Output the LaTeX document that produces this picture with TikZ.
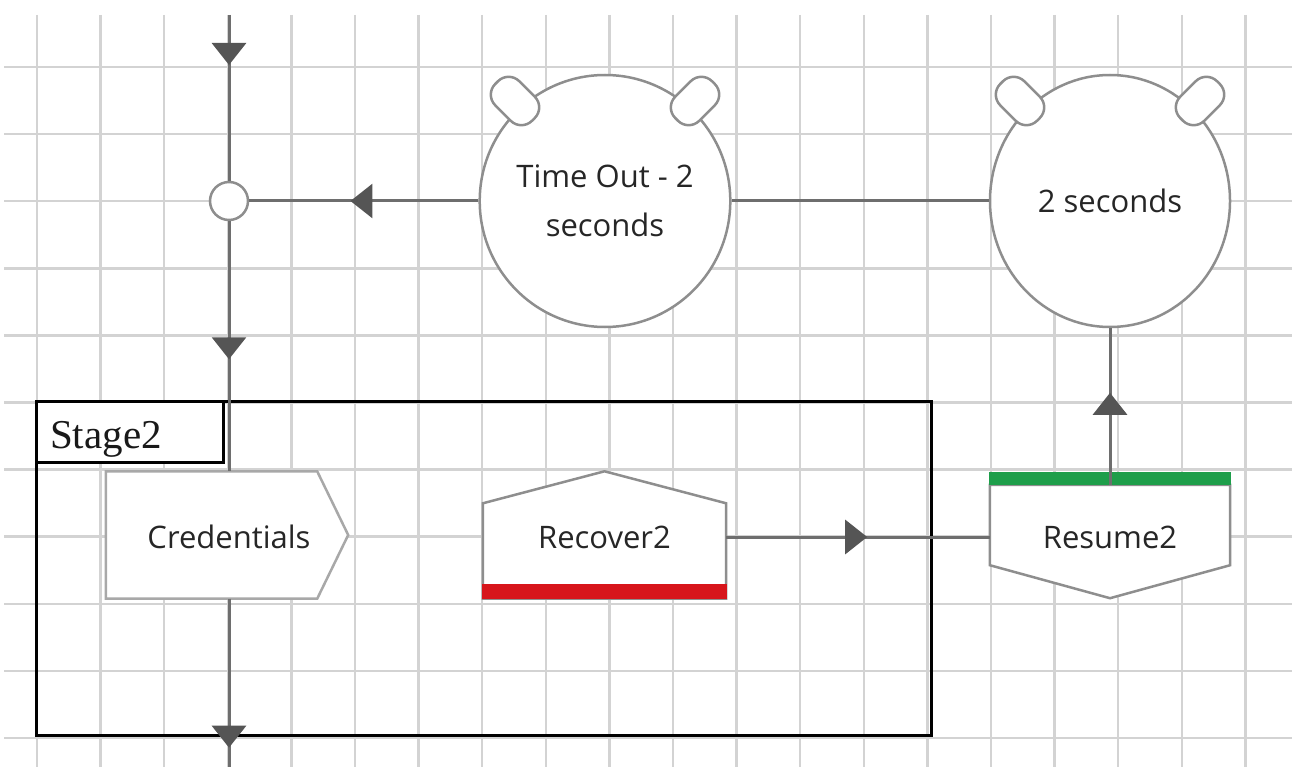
\documentclass[tikz,border=0pt]{standalone}
\usepackage{fontspec}
\setmainfont{Open Sans}
\newfontfamily\serifstage{Liberation Serif}
\usetikzlibrary{arrows.meta,shapes.geometric,decorations.markings,calc}
\definecolor{gridc}{HTML}{D3D3D3}
\definecolor{linec}{HTML}{6E6E6E}
\definecolor{arrowc}{HTML}{555555}
\definecolor{shapec}{HTML}{8E8E8E}
\definecolor{lightshape}{HTML}{A8A8A8}
\definecolor{txtc}{HTML}{262626}
\definecolor{redbar}{HTML}{D7151B}
\definecolor{greenbar}{HTML}{1E9E4A}
\begin{document}
\begin{tikzpicture}[x=1pt,y=-1pt,
  gridline/.style={draw=gridc,line width=2.5pt},
  conn/.style={draw=linec,line width=3pt},
  tipat/.style={postaction={decorate},decoration={markings,
      mark=at position #1 with {\arrow[arrowc]{Triangle[length=22pt,width=34pt]}}}},
  timer/.style={ellipse,draw=shapec,line width=2.5pt,fill=white,
      minimum width=240pt,minimum height=252pt,inner sep=0pt,align=center,
      text=txtc,font=\fontsize{31}{49}\selectfont},
  ear/.style={rectangle,draw=shapec,line width=2.5pt,fill=white,rounded corners=15pt,
      minimum width=52pt,minimum height=34pt,inner sep=0pt},
  stepbox/.style={rectangle,draw=none,inner sep=0pt,text=txtc,
      font=\fontsize{31}{40}\selectfont},
  outline/.style={draw=shapec,line width=2.5pt,fill=white,line join=miter},
  stageframe/.style={draw=black,line width=2.5pt,inner sep=0pt}
]
\fill[white] (0,0) rectangle (1292,767);
\useasboundingbox (0,0) rectangle (1292,767);

% grid
\foreach \i in {0,...,19} \draw[gridline] ({37+63.6*\i},15) -- ({37+63.6*\i},767);
\foreach \j in {0,...,10} \draw[gridline] (4,{67+67.1*\j}) -- (1292,{67+67.1*\j});

% stage
\node[stageframe,anchor=north west,minimum width=895pt,minimum height=334pt] (stage) at (35,400) {};
\node[stageframe,fill=white,anchor=north west,minimum width=187pt,minimum height=61pt] (stagelbl) at (35,400) {};
\node[anchor=base west,inner sep=0pt,text=black!90,font=\serifstage\fontsize{41}{48}\selectfont] (stagetxt) at (50,448) {Stage2};

% timers
\node[timer] (to) at (605,201) {Time Out - 2\\seconds};
\node[ear,rotate=-45] (toearl) at ($(to.center)+(-90,-100)$) {};
\node[ear,rotate=45] (toearr) at ($(to.center)+(90,-100)$) {};
\node[timer] (ts) at (1110,201) {2 seconds};
\node[ear,rotate=-45] (tsearl) at ($(ts.center)+(-90,-100)$) {};
\node[ear,rotate=45] (tsearr) at ($(ts.center)+(90,-100)$) {};

% junction
\node[circle,draw=shapec,line width=2.5pt,fill=white,minimum size=38pt,inner sep=0pt] (jn) at (229,201) {};

% Credentials
\node[stepbox,minimum width=242pt,minimum height=127pt] (cred) at (227,535) {};
\path[outline,draw=lightshape] (cred.north west) -- ($(cred.north east)+(-31,0)$) -- (cred.east)
   -- ($(cred.south east)+(-31,0)$) -- (cred.south west) -- cycle;
\node[stepbox] (credtxt) at ($(cred.center)+(2,2)$) {Credentials};

% Recover2
\node[stepbox,minimum width=243pt,minimum height=127pt] (rec) at (604.5,535) {};
\path[outline] (rec.south west) -- ($(rec.north west)+(0,32)$) -- (rec.north)
   -- ($(rec.north east)+(0,32)$) -- (rec.south east) -- cycle;
\fill[redbar] ($(rec.south west)+(-1,-15)$) rectangle ($(rec.south east)+(1,0)$);
\node[stepbox] (rectxt) at ($(rec.center)+(0,2)$) {Recover2};

% Resume2
\node[stepbox,minimum width=240pt,minimum height=126pt] (res) at (1110,535) {};
\path[outline] ($(res.north west)+(0,13)$) -- ($(res.south west)+(0,-33)$) -- (res.south)
   -- ($(res.south east)+(0,-33)$) -- ($(res.north east)+(0,13)$) -- cycle;
\fill[greenbar] ($(res.north west)+(-1,0)$) rectangle ($(res.north east)+(1,13)$);
\node[stepbox] (restxt) at ($(res.center)+(0,2)$) {Resume2};

% connectors
\coordinate (top) at (229,15);
\coordinate (bot) at (229,767);
\draw[conn,tipat=50pt] (top) -- (jn.north);
\draw[conn,tipat=138pt] (jn.south) -- (jn.south |- cred.north);
\draw[conn,tipat=149pt] (jn.south |- cred.south) -- (bot);
\draw[conn,tipat=128pt] (to.west) -- (jn.east);
\draw[conn] (to.east) -- (ts.west);
\draw[conn,tipat=141pt] ($(rec.east)+(0,2)$) -- ($(res.west)+(0,2)$);
\draw[conn,tipat=92pt] ($(res.north)+(0,13)$) -- (ts.south);
\end{tikzpicture}
\end{document}
